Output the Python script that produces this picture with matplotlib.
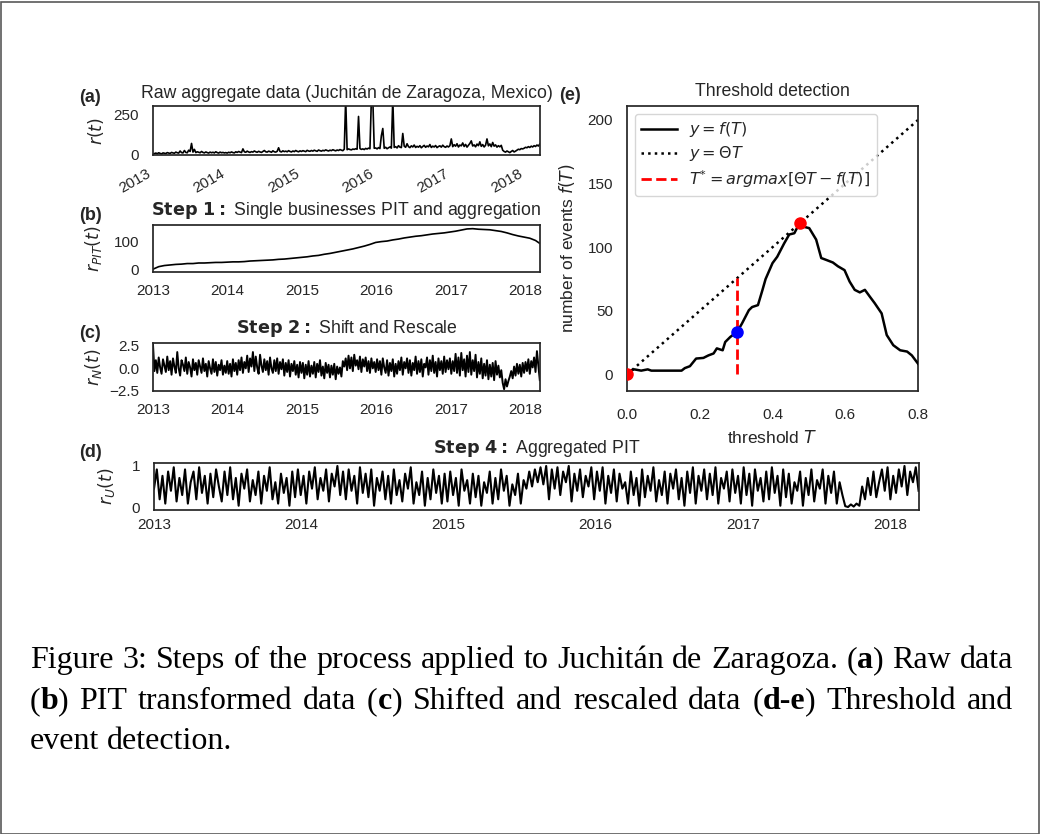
import numpy as np
import pandas as pd
import matplotlib
matplotlib.use("Agg")
import matplotlib.pyplot as plt
from matplotlib.patches import Rectangle

# ---------------- data ----------------
years = [2013, 2014, 2015, 2016, 2017, 2018]
x_start = "2013-01-01"
x_end = "2018-03-14"

# (a) raw aggregate data, weekly samples
raw_2013 = [5, 9, 12, 8, 14, 10, 7, 13, 11, 9, 15, 12, 10, 16, 13, 11, 18, 14, 12, 25, 15, 13, 28, 16, 14, 30,
            22, 72, 18, 35, 15, 20, 17, 14, 22, 16, 13, 19, 15, 12, 18, 14, 17, 13, 20, 15, 12, 18, 14, 16, 13, 15]
raw_2014 = [12, 17, 14, 19, 15, 13, 20, 16, 22, 18, 15, 38, 20, 17, 24, 19, 16, 21, 18, 25, 20, 17, 23, 19, 16, 22,
            28, 20, 18, 24, 21, 17, 26, 20, 18, 23, 45, 22, 19, 26, 21, 24, 20, 27, 22, 19, 25, 21, 28, 23, 20, 26]
raw_2015 = [22, 27, 24, 21, 29, 25, 23, 28, 24, 30, 26, 23, 31, 27, 24, 29, 26, 32, 28, 25, 30, 27, 33, 29, 26, 31,
            28, 34, 30, 27, 36, 350, 33, 38, 34, 32, 37, 35, 39, 36, 240, 40, 35, 38, 34, 41, 37, 43, 39, 350, 350, 42]
raw_2016 = [44, 38, 46, 40, 120, 165, 42, 48, 39, 45, 50, 43, 350, 47, 52, 44, 58, 49, 46, 134, 55, 48, 70, 52, 46, 57,
            50, 62, 47, 54, 49, 58, 45, 53, 60, 48, 56, 51, 65, 47, 55, 50, 59, 46, 53, 57, 49, 61, 52, 48, 56, 50]
raw_2017 = [58, 100, 52, 64, 55, 70, 50, 62, 57, 75, 53, 66, 49, 60, 72, 88, 56, 63, 51, 68, 58, 82, 54, 65, 50, 61,
            100, 57, 69, 52, 78, 55, 63, 49, 58, 51, 60, 30, 22, 18, 25, 20, 15, 22, 28, 19, 24, 30, 36, 33, 40, 38]
raw_2018 = [42, 48, 45, 52, 47, 55, 50, 58, 53, 62, 56, 68]

# (b) PIT aggregated, 4-weekly samples
pit_vals = [2, 11, 15, 17, 19, 20, 22, 22, 24, 24, 25, 26, 26, 27, 28, 28, 29, 31, 32, 33, 34, 35, 37, 38, 40, 42,
            44, 46, 49, 51, 55, 58, 62, 66, 70, 74, 79, 84, 90, 97, 100, 102, 106, 109, 113, 116, 119, 121, 124, 127,
            129, 131, 134, 137, 141, 145, 146, 144, 143, 142, 139, 136, 131, 125, 120, 116, 112, 104, 90]

# (c) shifted and rescaled, weekly samples
norm_2013 = [2.6, -0.3, 0.9, -0.5, 1.2, 0.1, -0.6, 1.0, 0.3, -0.4, 1.3, -0.2, 0.8, -0.7, 1.1, 0.2, -0.5, 1.8, 0.0,
             -0.8, 0.9, 0.4, -0.3, 1.2, -0.6, 0.7, 0.1, -0.9, 1.0, -0.2, 0.6, -0.7, 0.9, 0.2, -0.5, 1.1, -0.3, 0.5,
             -0.9, 0.8, 0.0, -0.6, 1.0, -0.4, 0.7, -0.8, 0.4, -0.2, 0.9, -0.7, 0.3, -0.5]
norm_2014 = [0.8, -0.6, 0.5, -0.9, 1.0, -0.3, 0.6, -0.7, 0.9, -0.2, 1.2, -0.5, 0.7, 0.0, 1.4, -0.4, 1.1, 0.2, 1.8,
             -0.3, 1.3, 0.1, -0.6, 1.5, 0.3, -0.4, 1.0, -0.2, 0.8, -0.7, 1.2, 0.0, -0.5, 0.9, -0.3, 1.1, -0.6, 0.7,
             -0.1, 1.0, -0.8, 0.6, -0.4, 0.9, -0.9, 0.5, -0.3, 0.8, -0.7, 0.4, -1.0, 0.7]
norm_2015 = [-0.5, 0.6, -1.1, 0.4, -0.7, 0.8, -0.9, 0.3, -0.6, 0.7, -1.0, 0.5, -0.4, 0.9, -0.8, 0.2, -1.1, 0.6, -0.5,
             0.4, -1.0, 0.3, -0.7, 0.5, -1.2, 0.2, -0.6, 0.1, -0.9, 0.8, 0.2, 1.1, -0.2, 1.4, 0.0, 1.2, -0.3, 1.5,
             0.3, 0.9, -0.1, 1.3, -0.4, 1.0, 0.2, 1.2, -0.3, 0.8, -0.5, 1.1, 0.0, 0.7]
norm_2016 = [-0.4, 1.0, -0.2, 0.8, -0.7, 1.1, 0.1, -0.5, 0.9, -0.8, 0.6, -0.3, 1.0, -0.9, 0.5, -0.6, 0.8, -0.2, 1.2,
             -0.7, 0.7, 0.0, 1.1, -0.5, 0.9, -0.8, 0.6, -0.2, 1.3, -0.6, 0.8, -0.4, 1.0, -0.9, 0.5, 0.1, 1.2, -0.7,
             0.9, -0.3, 1.4, -0.5, 0.7, -0.9, 1.1, -0.2, 0.8, -0.6, 1.3, -0.4, 0.9, -0.1]
norm_2017 = [1.1, -0.6, 0.8, -0.3, 1.6, -0.5, 1.2, -0.8, 1.7, -0.2, 1.0, -0.9, 1.4, -0.4, 1.8, -0.7, 0.9, -0.3, 1.5,
             -1.0, 0.7, -0.6, 1.1, -1.1, 0.5, -0.8, 0.9, -1.2, 0.4, -0.9, 0.6, -1.3, 0.8, -0.7, 0.3, -1.0, -0.2,
             -1.6, -2.3, -1.2, -2.0, -1.4, -0.9, -0.3, -1.1, 0.2, -0.8, 0.5, -0.6, 0.4, -0.9, 0.6]
norm_2018 = [-0.5, 0.7, -0.3, 1.0, -0.6, 0.8, 0.1, 1.2, -0.4, 1.9, 0.3, -1.3]

# (d) aggregated PIT, weekly samples
unif_2013 = [0.45, 0.9, 0.2, 0.75, 0.1, 0.85, 0.4, 0.95, 0.15, 0.7, 0.3, 0.9, 0.1, 0.6, 0.85, 0.2, 0.95, 0.35, 0.75,
             0.1, 0.8, 0.25, 0.9, 0.5, 0.15, 0.85, 0.3, 0.95, 0.2, 0.7, 0.05, 0.8, 0.45, 0.9, 0.15, 0.65, 0.3, 0.85,
             0.1, 0.75, 0.4, 0.95, 0.2, 0.6, 0.1, 0.8, 0.35, 0.7, 0.05, 0.85, 0.25, 0.9]
unif_2014 = [0.3, 0.75, 0.1, 0.85, 0.45, 0.95, 0.2, 0.7, 0.4, 0.9, 0.15, 0.8, 0.5, 0.98, 0.3, 0.85, 0.2, 0.9, 0.4,
             0.75, 0.1, 0.95, 0.35, 0.8, 0.25, 0.9, 0.05, 0.7, 0.4, 0.85, 0.2, 0.75, 0.1, 0.9, 0.3, 0.65, 0.15, 0.8,
             0.45, 0.95, 0.1, 0.6, 0.3, 0.85, 0.05, 0.7, 0.2, 0.9, 0.35, 0.75, 0.1, 0.8]
unif_2015 = [0.15, 0.85, 0.3, 0.7, 0.05, 0.9, 0.4, 0.65, 0.1, 0.8, 0.25, 0.75, 0.05, 0.6, 0.35, 0.85, 0.1, 0.7, 0.2,
             0.9, 0.4, 0.75, 0.05, 0.55, 0.3, 0.8, 0.1, 0.65, 0.45, 0.85, 0.5, 0.9, 0.6, 0.95, 0.55, 0.98, 0.2, 0.9,
             0.45, 0.95, 0.3, 0.85, 0.6, 0.98, 0.15, 0.8, 0.4, 0.9, 0.25, 0.75, 0.5, 0.95]
unif_2016 = [0.2, 0.85, 0.4, 0.95, 0.1, 0.75, 0.35, 0.9, 0.15, 0.8, 0.45, 0.6, 0.1, 0.85, 0.3, 0.7, 0.05, 0.9, 0.25,
             0.75, 0.4, 0.95, 0.15, 0.65, 0.3, 0.85, 0.1, 0.8, 0.45, 0.9, 0.2, 0.7, 0.05, 0.85, 0.35, 0.95, 0.1, 0.75,
             0.4, 0.9, 0.2, 0.8, 0.3, 0.95, 0.1, 0.7, 0.45, 0.85, 0.15, 0.9, 0.35, 0.75]
unif_2017 = [0.1, 0.95, 0.3, 0.8, 0.05, 0.9, 0.4, 0.7, 0.15, 0.85, 0.2, 0.95, 0.35, 0.75, 0.05, 0.9, 0.25, 0.8, 0.1,
             0.6, 0.4, 0.85, 0.05, 0.7, 0.3, 0.9, 0.15, 0.65, 0.45, 0.9, 0.1, 0.75, 0.35, 0.85, 0.1, 0.6, 0.3,
             0.04, 0.02, 0.08, 0.03, 0.1, 0.05, 0.5, 0.2, 0.7, 0.3, 0.85, 0.25, 0.6, 0.9, 0.4]
unif_2018 = [0.95, 0.2, 0.75, 0.35, 0.9, 0.5, 0.98, 0.3, 0.85, 0.6, 0.95, 0.4]

# (e) threshold detection
thr_T = [0.000, 0.010, 0.020, 0.039, 0.057, 0.067, 0.100, 0.150, 0.159, 0.173, 0.190, 0.210, 0.224, 0.238, 0.247,
         0.263, 0.270, 0.284, 0.303, 0.316, 0.335, 0.344, 0.360, 0.372, 0.381, 0.400, 0.413, 0.432, 0.446, 0.460,
         0.469, 0.475, 0.487, 0.501, 0.520, 0.534, 0.548, 0.566, 0.580, 0.598, 0.612, 0.626, 0.640, 0.654, 0.668,
         0.681, 0.700, 0.714, 0.732, 0.751, 0.770, 0.783, 0.800]
thr_f = [1, 3, 4, 3, 4, 3, 3, 3, 5, 6.5, 12.5, 13, 15, 16.5, 20.5, 19, 25.5, 29.5, 33.5, 40, 50.5, 53, 54.5, 66, 75,
         87.5, 92.5, 103, 110, 111, 116, 119, 116, 115, 106, 91.5, 90, 88, 85, 82, 73, 66.5, 64.5, 66.5, 61, 56, 48,
         31, 23, 19, 18, 15, 8.5]
theta = 250.0
line_T = [0.0, 0.8]
T_star = 0.303
f_T_star = 33.5
red_pts_T = [0.0, 0.475]
red_pts_f = [0.0, 119.0]

caption_lines = [
    [[("Figure", "normal")], [("3:", "normal")], [("Steps", "normal")], [("of", "normal")], [("the", "normal")],
     [("process", "normal")], [("applied", "normal")], [("to", "normal")], [("Juchitán", "normal")],
     [("de", "normal")], [("Zaragoza.", "normal")], [("(", "normal"), ("a", "bold"), (")", "normal")],
     [("Raw", "normal")], [("data", "normal")]],
    [[("(", "normal"), ("b", "bold"), (")", "normal")], [("PIT", "normal")], [("transformed", "normal")],
     [("data", "normal")], [("(", "normal"), ("c", "bold"), (")", "normal")], [("Shifted", "normal")],
     [("and", "normal")], [("rescaled", "normal")], [("data", "normal")],
     [("(", "normal"), ("d-e", "bold"), (")", "normal")], [("Threshold", "normal")], [("and", "normal")]],
    [[("event", "normal")], [("detection.", "normal")]],
]

# ---------------- style ----------------
W, H = 1040, 834
DARK = "0.15"
plt.rcParams.update({
    "font.family": ["Liberation Sans", "DejaVu Sans"],
    "font.size": 11,
    "text.color": DARK,
    "axes.edgecolor": DARK,
    "axes.linewidth": 1.25,
    "axes.labelcolor": DARK,
    "xtick.color": DARK,
    "ytick.color": DARK,
    "xtick.major.size": 0,
    "ytick.major.size": 0,
    "xtick.labelsize": 11,
    "ytick.labelsize": 11,
    "axes.titlesize": 12.7,
    "axes.labelsize": 12.5,
    "mathtext.fontset": "dejavusans",
})

fig = plt.figure(figsize=(W / 100, H / 100), dpi=100)
fig.patch.set_facecolor("white")


def add_ax(l, t, r, b):
    return fig.add_axes([l / W, 1 - b / H, (r - l) / W, (b - t) / H])


def weekly(vals):
    return pd.date_range(x_start, periods=len(vals), freq="7D")


tick_dates = pd.to_datetime([f"{y}-01-01" for y in years])
tick_labels = [str(y) for y in years]


def time_axis(ax, rot=0):
    ax.set_xlim(pd.Timestamp(x_start), pd.Timestamp(x_end))
    ax.set_xticks(tick_dates)
    if rot:
        ax.set_xticklabels(tick_labels, rotation=rot, ha="right")
    else:
        ax.set_xticklabels(tick_labels)


# (a)
raw_vals = raw_2013 + raw_2014 + raw_2015 + raw_2016 + raw_2017 + raw_2018
ax_a = add_ax(153, 106, 540, 155)
ax_a.plot(weekly(raw_vals), raw_vals, color="k", lw=1.2)
time_axis(ax_a, rot=30)
ax_a.set_ylim(0, 305)
ax_a.set_yticks([0, 250])
ax_a.set_title("Raw aggregate data (Juchitán de Zaragoza, Mexico)", pad=6)
ax_a.set_ylabel(r"$r(t)$")
ax_a.yaxis.set_label_coords((106 - 153) / 387, 0.5)

# (b)
ax_b = add_ax(153, 225, 540, 272)
pit_dates = pd.date_range(x_start, periods=len(pit_vals), freq="28D")
ax_b.plot(pit_dates, pit_vals, color="k", lw=1.2)
time_axis(ax_b)
ax_b.set_ylim(-8, 159)
ax_b.set_yticks([0, 100])
ax_b.set_title(r"$\bf{Step\ 1:}$ Single businesses PIT and aggregation", pad=7)
ax_b.set_ylabel(r"$r_{PIT}(t)$")
ax_b.yaxis.set_label_coords((104 - 153) / 387, 0.5)

# (c)
norm_vals = norm_2013 + norm_2014 + norm_2015 + norm_2016 + norm_2017 + norm_2018
ax_c = add_ax(153, 343, 540, 391)
ax_c.plot(weekly(norm_vals), norm_vals, color="k", lw=1.4)
time_axis(ax_c)
ax_c.set_ylim(-2.4, 2.8)
ax_c.set_yticks([-2.5, 0.0, 2.5])
ax_c.set_yticklabels(["\u22122.5", "0.0", "2.5"])
ax_c.set_title(r"$\bf{Step\ 2:}$ Shift and Rescale", pad=7)
ax_c.set_ylabel(r"$r_N(t)$")
ax_c.yaxis.set_label_coords((104 - 153) / 387, 0.5)

# (d)
unif_vals = unif_2013 + unif_2014 + unif_2015 + unif_2016 + unif_2017 + unif_2018
ax_d = add_ax(154, 463, 919, 510)
ax_d.plot(weekly(unif_vals), unif_vals, color="k", lw=1.5)
time_axis(ax_d)
ax_d.set_ylim(-0.05, 1.05)
ax_d.set_yticks([0, 1])
ax_d.set_title(r"$\bf{Step\ 4:}$ Aggregated PIT", pad=7)
ax_d.set_ylabel(r"$r_U(t)$")
ax_d.yaxis.set_label_coords((117 - 154) / 765, 0.5)

# (e)
ax_e = add_ax(627, 106, 918, 391)
ax_e.plot(thr_T, thr_f, color="k", lw=1.8, label=r"$y = f(T)$", zorder=3)
ax_e.plot(line_T, [theta * t for t in line_T], color="k", ls=":", lw=1.8, label=r"$y = \Theta T$", zorder=2)
ax_e.vlines(T_star, 0, theta * T_star, colors="red", linestyles="--", lw=2,
            label=r"$T^{*} = argmax[\Theta T - f(T)]$", zorder=2)
ax_e.plot(red_pts_T, red_pts_f, "o", color="red", ms=8, zorder=5, clip_on=True)
ax_e.plot([T_star], [f_T_star], "o", color="blue", ms=8, zorder=5)
ax_e.set_xlim(0, 0.8)
ax_e.set_ylim(-13, 211)
ax_e.set_xticks([0.0, 0.2, 0.4, 0.6, 0.8])
ax_e.set_xticklabels(["0.0", "0.2", "0.4", "0.6", "0.8"])
ax_e.set_yticks([0, 50, 100, 150, 200])
ax_e.set_title("Threshold detection", pad=7)
ax_e.set_xlabel(r"threshold $T$")
ax_e.xaxis.set_label_coords(0.5, -(429 - 391) / 285)
ax_e.set_ylabel(r"number of events $f(T)$")
ax_e.yaxis.set_label_coords((577 - 627) / 291, 0.5)
leg = ax_e.legend(loc="upper left", fontsize=11.5, frameon=True, fancybox=True, framealpha=0.8,
                  edgecolor="0.8", handlelength=2.2, borderaxespad=0.5, labelspacing=0.3, borderpad=0.4)

for ax in (ax_a, ax_b, ax_c, ax_d, ax_e):
    ax.tick_params(axis="x", length=0, pad=8.5)
    ax.tick_params(axis="y", length=0, pad=10)
    for s in ax.spines.values():
        s.set_color(DARK)
        s.set_linewidth(1.25)
ax_d.tick_params(axis="x", pad=6)
ax_e.tick_params(axis="x", pad=12)

# panel letters
for lab, x, y in [("(a)", 90, 98), ("(b)", 90, 215), ("(c)", 90, 334), ("(d)", 90, 453), ("(e)", 570, 95)]:
    fig.text(x / W, 1 - y / H, lab, fontsize=13, fontweight="bold", ha="center", va="center", color=DARK)

# outer frame
fig.add_artist(Rectangle((0.5 / W, 0.5 / H), (W - 2) / W, (H - 2) / H, transform=fig.transFigure,
                         fill=False, edgecolor="0.35", lw=1.2))

# caption (justified)
renderer = fig.canvas.get_renderer()
cap_fs = 23.0
cap_family = ["Liberation Serif", "DejaVu Serif"]
x_left, x_right = 30, 1013
baselines = [668, 709, 749]
for li, words in enumerate(caption_lines):
    word_items = []
    total = 0.0
    for word in words:
        pieces = []
        wsum = 0.0
        for txt, wt in word:
            t = fig.text(0, 0, txt, fontsize=cap_fs, fontweight=wt, family=cap_family, color="black",
                         va="baseline", ha="left")
            wdt = t.get_window_extent(renderer).width
            pieces.append((t, wdt))
            wsum += wdt
        word_items.append((pieces, wsum))
        total += wsum
    if li < len(caption_lines) - 1:
        gap = (x_right - x_left - total) / (len(words) - 1)
    else:
        gap = cap_fs * 100 / 72 * 0.25
    x = x_left
    for pieces, wsum in word_items:
        for t, wdt in pieces:
            t.set_position((x / W, 1 - baselines[li] / H))
            x += wdt
        x += gap

fig.savefig("out.png", dpi=100, facecolor="white")
